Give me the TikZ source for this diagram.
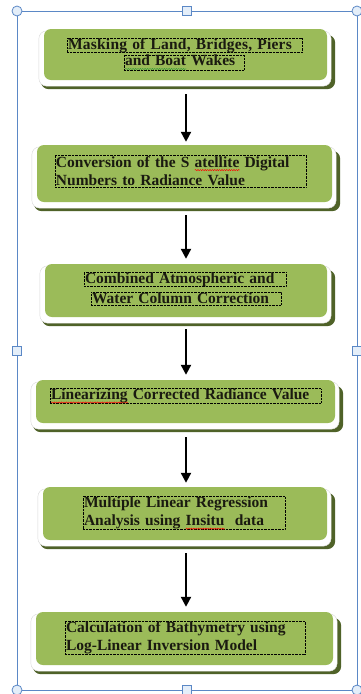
\documentclass[tikz,border=0pt]{standalone}
\usepackage{fontspec}
\setmainfont{Liberation Serif}
\usetikzlibrary{arrows.meta,backgrounds,decorations.pathmorphing}
\definecolor{boxgreen}{HTML}{9BBB59}
\definecolor{boxshadow}{HTML}{4F6228}
\definecolor{framecol}{HTML}{5B88C6}
\definecolor{handlefill}{HTML}{E4EEF9}
\definecolor{txtcol}{HTML}{1A1A10}
\definecolor{grammarcol}{HTML}{3A9A3A}
\newsavebox\wavebox
\newcommand\wavemark[2]{\sbox\wavebox{#2}\rlap{\tikz[baseline=0pt]\draw[#1, solid, line width=0.45pt, decorate, decoration={snake, amplitude=0.6pt, segment length=2.4pt}] (0pt,-3pt) -- (\wd\wavebox,-3pt);}\usebox\wavebox}
\tikzset{
  gbox/.style={fill=boxgreen, rounded corners=7pt, inner sep=0pt},
  dbox/.style={draw=black, line width=0.5pt, dash pattern=on 0.7pt off 0.7pt,
    inner xsep=1pt, inner ysep=0pt, align=left, text=txtcol,
    font=\bfseries\fontsize{15.5}{18.5}\selectfont},
  flowarrow/.style={line width=2.2pt, -{Triangle[width=10pt,length=10pt]}},
  handlecirc/.style={circle, draw=framecol, fill=handlefill, line width=0.8pt, minimum size=10pt, inner sep=0pt},
  handlesq/.style={rectangle, draw=framecol, fill=handlefill, line width=0.8pt, minimum size=8.5pt, inner sep=0pt},
}
\newcommand\boxlayers[1]{%
  \begin{scope}[on background layer]
    \fill[boxshadow, rounded corners=8pt] ([xshift=-3pt,yshift=-6pt]#1.north west) rectangle ([xshift=8pt,yshift=-9pt]#1.south east);
    \filldraw[fill=white, draw=black!15, line width=0.4pt, rounded corners=8pt] ([xshift=-5pt,yshift=-2pt]#1.north west) rectangle ([xshift=4pt,yshift=-6pt]#1.south east);
  \end{scope}}
\begin{document}
\begin{tikzpicture}[x=1pt,y=-1pt]
\useasboundingbox (0,0) rectangle (360,694);
\begin{scope}[on background layer]
\fill[white] (0,0) rectangle (360,694);
\end{scope}

% boxes
\node[gbox, minimum width=283pt, minimum height=51pt] (b1) at (185.5,54.5) {};
\node[gbox, minimum width=295pt, minimum height=57pt] (b2) at (184.5,173.5) {};
\node[gbox, minimum width=282pt, minimum height=53pt] (b3) at (186,290.5) {};
\node[gbox, minimum width=299pt, minimum height=43pt] (b4) at (185.5,401.5) {};
\node[gbox, minimum width=284pt, minimum height=53pt] (b5) at (185,513.5) {};
\node[gbox, minimum width=297pt, minimum height=53pt] (b6) at (184.5,638.5) {};
\boxlayers{b1}\boxlayers{b2}\boxlayers{b3}\boxlayers{b4}\boxlayers{b5}\boxlayers{b6}

% texts
\node[dbox, text width=233pt, minimum height=13pt] (t1a) at (184.5,45.5) {\mbox{\addfontfeature{LetterSpace=1.5}Masking of Land, Bridges, Piers}};
\node[dbox, text width=118pt, minimum height=15pt] (t1b) at (184,62.5) {\mbox{\wavemark{grammarcol}{and Boat} Wakes}};
\node[dbox, text width=249pt, minimum height=32pt] (t2) at (180.5,171) {\mbox{Conversion of the S \wavemark{red}{atellite} Digital}\\\mbox{Numbers to Radiance Value}};
\node[dbox, text width=200pt, minimum height=13pt] (t3a) at (185,279.5) {\mbox{Combined Atmospheric and}};
\node[dbox, text width=188pt, minimum height=13pt] (t3b) at (186,298.5) {\mbox{Water Column Correction}};
\node[dbox, text width=269pt, minimum height=14pt] (t4) at (185.5,396) {\mbox{\wavemark{red}{Linearizing} Corrected Radiance Value}};
\node[dbox, text width=200pt, minimum height=32pt] (t5) at (184,513) {\mbox{Multiple Linear Regression}\\\mbox{Analysis using \wavemark{red}{Insitu}\ \ data}};
\node[dbox, text width=238pt, minimum height=31pt] (t6) at (185,637.5) {\mbox{Calculation of Bathymetry using}\\\mbox{Log-Linear Inversion Model}};

% arrows
\coordinate (axis) at (186,0);
\draw[flowarrow] ([yshift=-14pt]b1.south -| axis) -- ([yshift=3pt]b2.north -| axis);
\draw[flowarrow] ([yshift=-13pt]b2.south -| axis) -- ([yshift=5pt]b3.north -| axis);
\draw[flowarrow] ([yshift=-12pt]b3.south -| axis) -- ([yshift=5pt]b4.north -| axis);
\draw[flowarrow] ([yshift=-14pt]b4.south -| axis) -- ([yshift=4pt]b5.north -| axis);
\draw[flowarrow] ([yshift=-13pt]b5.south -| axis) -- ([yshift=5pt]b6.north -| axis);

% frame and handles
\coordinate (ftl) at (17,11);
\coordinate (fbr) at (357,690);
\draw[framecol, line width=0.9pt] (ftl) rectangle (fbr);
\node[handlecirc] (h1) at (17,11) {};
\node[handlecirc] (h2) at (357,11) {};
\node[handlecirc] (h3) at (17,690) {};
\node[handlecirc] (h4) at (357,690) {};
\node[handlesq] (h5) at (187,11) {};
\node[handlesq] (h6) at (17,351) {};
\node[handlesq] (h7) at (357,351) {};
\node[handlesq] (h8) at (187,690) {};
\end{tikzpicture}
\end{document}
